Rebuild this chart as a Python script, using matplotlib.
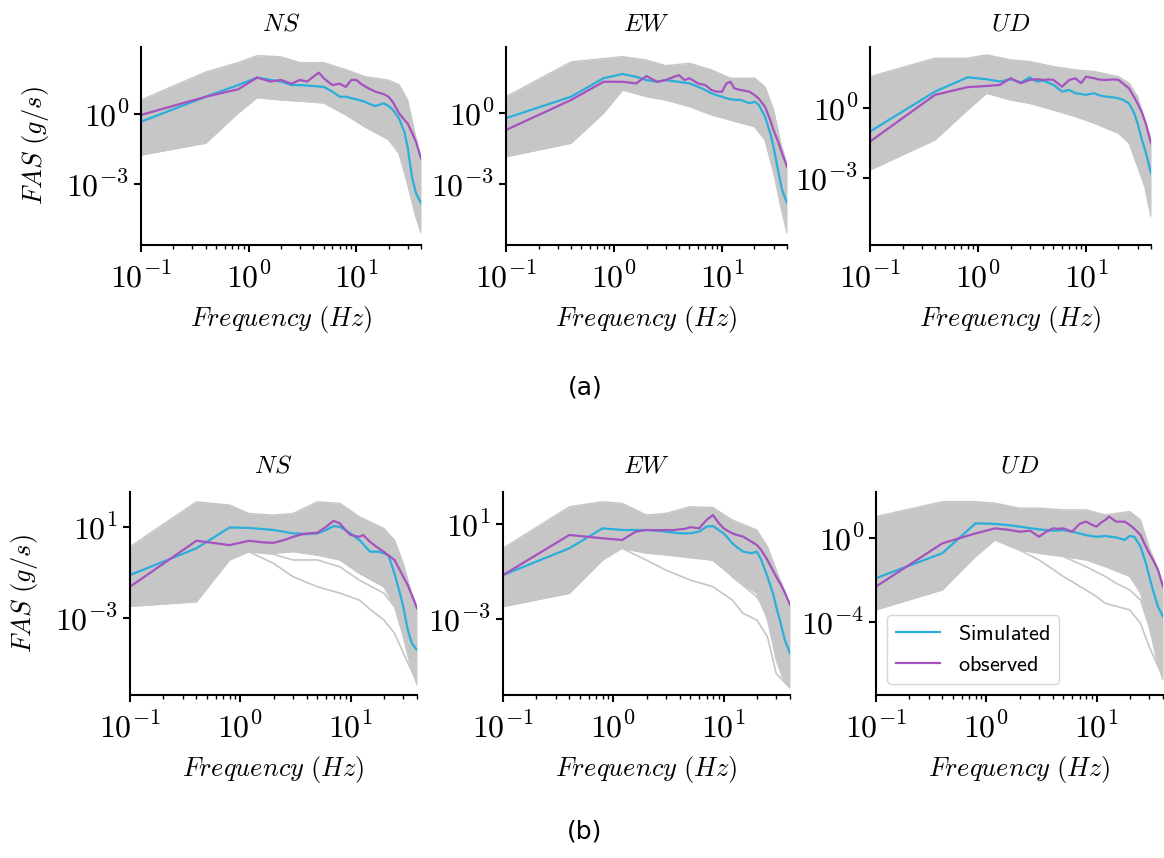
import numpy as np
import matplotlib.pyplot as plt
from matplotlib.ticker import FixedLocator, NullLocator, LogLocator, FuncFormatter

plt.rcParams['mathtext.fontset'] = 'cm'
plt.rcParams['font.family'] = 'DejaVu Sans'

# frequency points (Hz) for the simulated / observed curves
freq = [0.1, 0.4, 0.8, 1.2, 1.6, 2, 2.5, 3, 3.5, 4, 4.5, 5, 6, 7, 8, 9, 10,
        11, 12, 13, 15, 18, 20, 22, 25, 28, 30, 33, 36, 40]
# frequency points for the band of gray realisations
freq_env = [0.1, 0.4, 0.8, 1.2, 2, 3, 5, 8, 12, 20, 25, 30, 35, 40]

# all FAS values below are log10(g/s)
# ---- (a) ----
sim_a_ns = [-0.33, 0.74, 1.24, 1.56, 1.46, 1.39, 1.24, 1.24, 1.22, 1.2, 1.18, 1.16, 0.96, 0.74, 0.74,
            0.68, 0.63, 0.58, 0.53, 0.45, 0.34, 0.46, 0.34, 0.17, -0.19, -0.76, -1.4, -2.7, -3.4, -3.82]
obs_a_ns = [-0.04, 0.74, 1.06, 1.56, 1.39, 1.46, 1.3, 1.46, 1.39, 1.6, 1.77, 1.53, 1.24, 1.3, 1.16,
            1.46, 1.46, 1.3, 1.19, 1.1, 0.96, 0.85, 0.74, 0.5, 0.03, -0.25, -0.4, -0.8, -1.2, -1.9]
hi_a_ns = [0.6, 1.8, 2.2, 2.5, 2.45, 2.2, 2.2, 1.9, 1.6, 1.45, 1.25, 0.6, -0.8, -1.9]
lo_a_ns = [-1.76, -1.25, 0.04, 0.7, 0.6, 0.55, 0.47, -0.04, -0.55, -1.1, -1.7, -3.0, -4.25, -5.1]

sim_a_ew = [-0.22, 0.69, 1.47, 1.65, 1.53, 1.39, 1.32, 1.39, 1.35, 1.32, 1.28, 1.25, 1.11, 0.97, 0.83,
            0.75, 0.69, 0.62, 0.58, 0.56, 0.55, 0.41, 0.48, 0.34, -0.15, -0.86, -1.42, -2.4, -3.25, -3.8]
obs_a_ew = [-0.72, 0.55, 1.32, 1.32, 1.25, 1.56, 1.32, 1.39, 1.51, 1.6, 1.39, 1.47, 1.25, 1.18, 0.97,
            0.9, 0.9, 1.25, 1.32, 1.04, 0.97, 0.9, 0.76, 0.6, 0.27, -0.3, -0.72, -1.2, -1.7, -2.27]
hi_a_ew = [0.69, 2.16, 2.3, 2.38, 2.24, 2.0, 2.1, 1.82, 1.47, 1.47, 1.11, 0.13, -1.27, -2.2]
lo_a_ew = [-1.85, -1.28, -0.01, 0.97, 0.69, 0.55, 0.27, -0.08, -0.3, -0.58, -1.14, -2.5, -3.96, -5.07]

sim_a_ud = [-1.01, 0.7, 1.31, 1.23, 1.13, 1.23, 1.09, 1.31, 1.13, 1.17, 1.08, 0.99, 0.7, 0.77, 0.63,
            0.6, 0.56, 0.6, 0.63, 0.55, 0.49, 0.45, 0.41, 0.35, 0.2, -0.23, -0.66, -1.37, -1.94, -2.8]
obs_a_ud = [-1.44, 0.56, 0.89, 0.94, 0.99, 1.27, 1.06, 1.2, 1.23, 1.2, 1.22, 1.2, 0.91, 1.2, 1.27,
            1.06, 1.34, 1.3, 1.27, 1.22, 1.2, 1.22, 1.2, 1.05, 0.84, 0.45, 0.2, -0.2, -0.7, -1.51]
hi_a_ud = [1.34, 2.13, 2.13, 2.27, 2.06, 1.99, 1.77, 1.63, 1.56, 1.34, 1.06, 0.49, -0.51, -1.37]
lo_a_ud = [-2.66, -1.37, -0.09, 0.63, 0.34, 0.2, -0.09, -0.37, -0.66, -1.09, -1.5, -2.5, -3.37, -4.66]

# ---- (b) ----
sim_b_ns = [-1.11, 0.06, 0.97, 0.95, 0.9, 0.86, 0.78, 0.71, 0.7, 0.68, 0.7, 0.71, 0.86, 1.03, 1.0,
            0.85, 0.71, 0.55, 0.42, 0.25, -0.09, -0.09, -0.16, -0.24, -1.04, -1.9, -2.49, -3.5, -4.1, -4.38]
obs_b_ns = [-1.62, 0.39, 0.2, 0.39, 0.32, 0.3, 0.42, 0.56, 0.65, 0.71, 0.72, 0.74, 1.0, 1.26, 1.15,
            0.85, 0.64, 0.6, 0.56, 0.64, 0.34, 0.05, -0.09, -0.25, -0.45, -0.9, -1.18, -1.55, -2.0, -2.56]
hi_b_ns = [0.13, 2.09, 1.95, 1.58, 1.51, 1.58, 2.09, 2.02, 1.44, 0.93, 0.42, -0.6, -1.76, -2.48]
lo_b_ns = [-2.48, -2.28, -0.45, -0.09, -0.16, -0.09, -0.24, -0.45, -1.04, -1.62, -2.49, -3.8, -5.1, -5.9]
# realisations falling below the band
out1_f_b_ns = [0.8, 1.2, 2, 3, 5, 8, 12, 15, 20, 25, 30, 40]
out1_b_ns = [-0.2, -0.09, -0.6, -1.18, -1.62, -1.9, -2.2, -2.6, -3.07, -3.65, -4.5, -5.8]
out2_f_b_ns = [1.2, 2, 3, 5, 8, 12, 20, 25, 30, 40]
out2_b_ns = [-0.09, -0.2, -0.45, -0.45, -0.75, -1.33, -1.9, -2.49, -3.36, -5.1]

sim_b_ew = [-1.15, -0.02, 0.82, 0.75, 0.75, 0.75, 0.72, 0.68, 0.64, 0.61, 0.61, 0.61, 0.68, 0.89, 0.92,
            0.75, 0.61, 0.4, 0.19, 0.05, -0.16, -0.23, -0.16, -0.52, -1.22, -1.92, -2.48, -3.2, -3.9, -4.44]
obs_b_ew = [-1.15, 0.54, 0.4, 0.33, 0.68, 0.75, 0.74, 0.75, 0.74, 0.78, 0.8, 0.87, 0.82, 1.17, 1.38,
            1.05, 0.82, 0.7, 0.61, 0.55, 0.47, 0.25, 0.12, -0.1, -0.52, -0.95, -1.22, -1.55, -1.9, -2.4]
hi_b_ew = [-0.02, 1.73, 1.94, 1.87, 1.38, 1.45, 1.73, 1.7, 1.17, 0.75, 0.04, -0.94, -1.7, -2.4]
lo_b_ew = [-2.48, -1.92, -0.52, -0.02, -0.23, -0.3, -0.37, -0.52, -1.22, -1.92, -3.04, -4.73, -5.6, -5.9]
out1_f_b_ew = [1.2, 2, 3, 5, 8, 12, 15, 20, 25, 30, 40]
out1_b_ew = [-0.02, -0.52, -0.94, -1.36, -1.64, -2.2, -2.76, -3.04, -3.75, -5.3, -5.9]
out2_f_b_ew = [3, 8, 10, 12, 20, 25, 30, 40]
out2_b_ew = [-0.3, -0.52, -0.8, -1.22, -2.06, -2.76, -4.16, -5.7]

sim_b_ud = [-1.9, -0.71, 0.71, 0.68, 0.62, 0.55, 0.48, 0.42, 0.39, 0.36, 0.37, 0.39, 0.31, 0.23, 0.15,
            0.1, 0.07, 0.09, 0.11, 0.08, 0.04, -0.08, 0.11, 0.07, -0.4, -1.19, -1.82, -2.61, -3.25, -3.73]
obs_b_ud = [-2.3, -0.24, 0.23, 0.47, 0.4, 0.31, 0.36, 0.07, 0.31, 0.47, 0.45, 0.47, 0.31, 0.68, 0.79,
            0.65, 0.55, 0.75, 0.87, 1.03, 0.79, 0.79, 0.63, 0.45, 0.15, -0.4, -0.71, -1.1, -1.5, -2.3]
hi_b_ud = [1.03, 1.74, 1.74, 1.67, 1.43, 1.43, 1.35, 1.35, 1.11, 1.27, 0.87, -0.45, -1.3, -2.2]
lo_b_ud = [-3.41, -2.46, -0.87, -0.08, -0.56, -0.72, -0.87, -1.03, -1.35, -1.82, -2.61, -4.2, -5.8, -6.75]
out1_f_b_ud = [1.2, 2, 3, 5, 8, 10, 12, 20, 25, 30, 35, 40]
out1_b_ud = [-0.08, -0.56, -1.03, -1.82, -2.46, -2.78, -3.1, -3.41, -4.05, -5.16, -5.95, -6.59]
out2_f_b_ud = [5, 8, 12, 15, 20, 25, 30, 40]
out2_b_ud = [-0.87, -1.35, -1.82, -2.14, -2.46, -2.94, -4.2, -6.1]

components = ['NS', 'EW', 'UD']
GRAY = '#c6c6c6'
BLUE = '#2aaedb'
PURPLE = '#a552c0'

fig = plt.figure(figsize=(11.64, 8.58), dpi=100)
W, H = 1164, 858

# plain mathtext labels so they come out in Computer Modern
pow10 = FuncFormatter(lambda v, p: r'$10^{%d}$' % int(round(np.log10(v))))


def make_ax(x0, x1, ytop, ybot):
    return fig.add_axes([x0 / W, (H - ybot) / H, (x1 - x0) / W, (ybot - ytop) / H])


def draw(ax, sim, obs, hi, lo, outliers, title, yticks, ylim, ylabel, pad):
    ax.fill_between(freq_env, np.power(10.0, lo), np.power(10.0, hi),
                    color=GRAY, lw=0)
    ax.plot(freq_env, np.power(10.0, hi), color=GRAY, lw=1)
    ax.plot(freq_env, np.power(10.0, lo), color=GRAY, lw=1)
    for f, v in outliers:
        ax.plot(f, np.power(10.0, v), color=GRAY, lw=1.2)
    ax.plot(freq, np.power(10.0, sim), color=BLUE, lw=1.6, label=r'$\mathsf{Simulated}$')
    ax.plot(freq, np.power(10.0, obs), color=PURPLE, lw=1.6, label=r'$\mathsf{observed}$')
    ax.set_xscale('log')
    ax.set_yscale('log')
    ax.set_xlim(0.1, 40)
    ax.set_ylim(*ylim)
    ax.yaxis.set_major_locator(FixedLocator(yticks))
    ax.yaxis.set_minor_locator(NullLocator())
    ax.xaxis.set_major_locator(FixedLocator([0.1, 1, 10]))
    ax.xaxis.set_minor_locator(LogLocator(subs=np.arange(2, 10)))
    ax.xaxis.set_major_formatter(pow10)
    ax.yaxis.set_major_formatter(pow10)
    ax.spines['top'].set_visible(False)
    ax.spines['right'].set_visible(False)
    ax.spines['left'].set_linewidth(1.5)
    ax.spines['bottom'].set_linewidth(1.5)
    ax.tick_params(which='major', length=5, width=1.5, labelsize=23)
    ax.tick_params(which='minor', length=3, width=1)
    ax.tick_params(axis='x', which='major', pad=8)
    ax.set_title('$' + title + '$', fontsize=18, pad=pad)
    ax.set_xlabel(r'$Frequency\ (Hz)$', fontsize=19, labelpad=7)
    if ylabel:
        ax.set_ylabel(r'$FAS\ (g/s)$', fontsize=19, labelpad=11)


# row (a)
row_a = [(sim_a_ns, obs_a_ns, hi_a_ns, lo_a_ns), (sim_a_ew, obs_a_ew, hi_a_ew, lo_a_ew),
         (sim_a_ud, obs_a_ud, hi_a_ud, lo_a_ud)]
xa = [(141, 421), (506, 787), (870, 1151)]
ylim_a = [(10 ** -5.61, 10 ** 2.87), (10 ** -5.58, 10 ** 2.79), (10 ** -5.87, 10 ** 2.61)]
for i in range(3):
    ax = make_ax(xa[i][0], xa[i][1], 47, 245)
    s, o, hi, lo = row_a[i]
    draw(ax, s, o, hi, lo, [], components[i], [1e-3, 1e0], ylim_a[i], i == 0, 12)

# row (b)
row_b = [(sim_b_ns, obs_b_ns, hi_b_ns, lo_b_ns, [(out1_f_b_ns, out1_b_ns), (out2_f_b_ns, out2_b_ns)]),
         (sim_b_ew, obs_b_ew, hi_b_ew, lo_b_ew, [(out1_f_b_ew, out1_b_ew), (out2_f_b_ew, out2_b_ew)]),
         (sim_b_ud, obs_b_ud, hi_b_ud, lo_b_ud, [(out1_f_b_ud, out1_b_ud), (out2_f_b_ud, out2_b_ud)])]
xb = [(130, 417), (503, 790), (876, 1163)]
ylim_b = [(10 ** -6.35, 10 ** 2.52), (10 ** -6.2, 10 ** 2.35), (10 ** -7.46, 10 ** 2.2)]
yticks_b = [[1e-3, 1e1], [1e-3, 1e1], [1e-4, 1e0]]
for i in range(3):
    ax = make_ax(xb[i][0], xb[i][1], 492, 695)
    s, o, hi, lo, outl = row_b[i]
    draw(ax, s, o, hi, lo, outl, components[i], yticks_b[i], ylim_b[i], i == 0, 14)
    if i == 2:
        ax.legend(loc='lower left', fontsize=16, handlelength=2.0, framealpha=0.8,
                  edgecolor='#cccccc')

fig.text(585 / W, 1 - 388 / H, '(a)', ha='center', va='center', fontsize=18)
fig.text(585 / W, 1 - 832 / H, '(b)', ha='center', va='center', fontsize=18)

plt.savefig('out.png', dpi=100)
